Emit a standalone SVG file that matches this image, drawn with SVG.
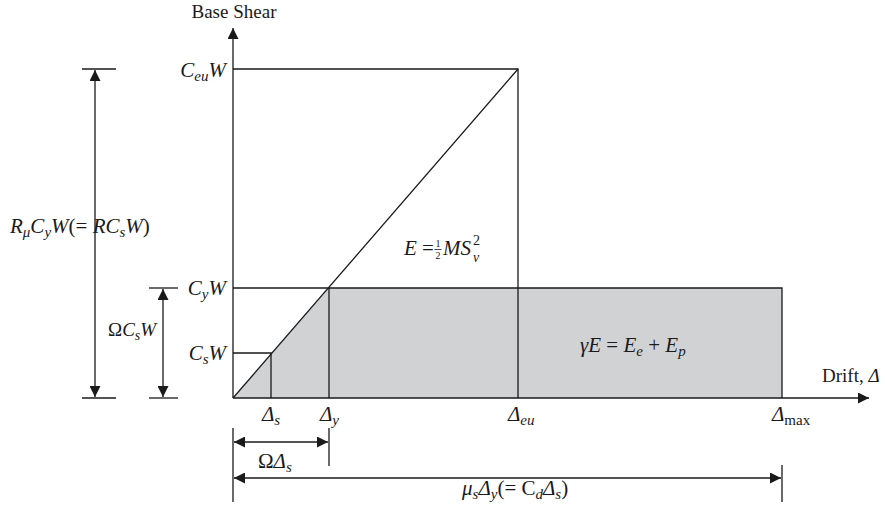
<svg xmlns="http://www.w3.org/2000/svg" width="885" height="515" viewBox="0 0 885 515">
<defs>
<marker id="ah" markerUnits="userSpaceOnUse" markerWidth="11" markerHeight="11" viewBox="0 0 11 11" refX="11" refY="5.5" orient="auto-start-reverse">
<path d="M0,0 L11,5.5 L0,11 z" fill="#1a1a1a"/>
</marker>
<style>
.ln{stroke:#1a1a1a;stroke-width:1.3;fill:none}
.t{font-family:"Liberation Serif",serif;font-size:19px;fill:#1a1a1a}
.m{font-family:"Liberation Serif",serif;font-style:italic;font-size:21px;fill:#1a1a1a}
.up{font-style:normal}
.sb{font-size:15px}
.fr{font-family:"Liberation Serif",serif;font-size:10px;fill:#1a1a1a}
.sp{font-family:"Liberation Serif",serif;font-size:14px;fill:#1a1a1a}
</style>
</defs>
<rect width="885" height="515" fill="#fff"/>
<g id="regions">
<polygon points="233,398 329,288 782,288 782,398" fill="#d1d2d4"/>
<polyline class="ln" points="233,69 518,69 518,398"/>
<line class="ln" x1="233" y1="398" x2="518" y2="69"/>
<polyline class="ln" points="233,288 782,288 782,398"/>
<polyline class="ln" points="233,353 271,353 271,398"/>
<line class="ln" x1="329" y1="288" x2="329" y2="398"/>
</g>
<g id="connectors">
<line class="ln" x1="233" y1="398" x2="233" y2="28" marker-end="url(#ah)"/>
<line class="ln" x1="233" y1="398" x2="869" y2="398" marker-end="url(#ah)"/>
<line class="ln" x1="82" y1="69" x2="116" y2="69"/>
<line class="ln" x1="82" y1="398" x2="116" y2="398"/>
<line class="ln" x1="95" y1="70" x2="95" y2="397" marker-start="url(#ah)" marker-end="url(#ah)"/>
<line class="ln" x1="149" y1="288" x2="178" y2="288"/>
<line class="ln" x1="149" y1="398" x2="178" y2="398"/>
<line class="ln" x1="163" y1="289" x2="163" y2="397" marker-start="url(#ah)" marker-end="url(#ah)"/>
<line class="ln" x1="233" y1="428" x2="233" y2="502"/>
<line class="ln" x1="329" y1="428" x2="329" y2="466"/>
<line class="ln" x1="782" y1="465" x2="782" y2="502"/>
<line class="ln" x1="234" y1="442" x2="328" y2="442" marker-start="url(#ah)" marker-end="url(#ah)"/>
<line class="ln" x1="234" y1="478" x2="781" y2="478" marker-start="url(#ah)" marker-end="url(#ah)"/>
</g>
<g id="axis-labels">
<text class="t" x="234" y="18" text-anchor="middle">Base Shear</text>
<text class="t" x="822" y="382">Drift, <tspan font-style="italic">Δ</tspan></text>
</g>
<g id="y-labels">
<text class="m" x="226" y="77" text-anchor="end">C<tspan class="sb" dy="4">eu</tspan><tspan dy="-4">W</tspan></text>
<text class="m" x="226" y="295" text-anchor="end">C<tspan class="sb" dy="4">y</tspan><tspan dy="-4">W</tspan></text>
<text class="m" x="226" y="360" text-anchor="end">C<tspan class="sb" dy="4">s</tspan><tspan dy="-4">W</tspan></text>
<text class="m" x="10" y="233">R<tspan class="sb" dy="4">μ</tspan><tspan dy="-4">C</tspan><tspan class="sb" dy="4">y</tspan><tspan dy="-4">W</tspan><tspan class="up">(=</tspan> RC<tspan class="sb" dy="4">s</tspan><tspan dy="-4">W</tspan><tspan class="up">)</tspan></text>
<text class="m" x="108" y="336" style="font-size:19px"><tspan class="up">Ω</tspan>C<tspan dy="4" style="font-size:14px">s</tspan><tspan dy="-4">W</tspan></text>
</g>
<g id="x-labels">
<text class="m" x="262" y="421">Δ<tspan class="sb" dy="4">s</tspan></text>
<text class="m" x="320" y="421">Δ<tspan class="sb" dy="4">y</tspan></text>
<text class="m" x="508" y="421">Δ<tspan class="sb" dy="4">eu</tspan></text>
<text class="m" x="772" y="421">Δ<tspan class="sb up" dy="4">max</tspan></text>
<text class="m" x="258" y="468"><tspan class="up">Ω</tspan>Δ<tspan class="sb" dy="4">s</tspan></text>
<text class="m" x="462" y="495">μ<tspan class="sb" dy="4">s</tspan><tspan dy="-4">Δ</tspan><tspan class="sb" dy="4">y</tspan><tspan class="up" dy="-4">(= C</tspan><tspan class="sb" dy="4">d</tspan><tspan dy="-4">Δ</tspan><tspan class="sb" dy="4">s</tspan><tspan class="up" dy="-4">)</tspan></text>
</g>
<g id="energy-labels">
<text class="m" x="404" y="255">E <tspan class="up">=</tspan></text>
<text class="fr" x="438" y="247" text-anchor="middle">1</text>
<line x1="434.5" y1="249.5" x2="441.5" y2="249.5" stroke="#1a1a1a" stroke-width="0.8"/>
<text class="fr" x="438" y="258.5" text-anchor="middle">2</text>
<text class="m" x="443" y="255">MS</text>
<text class="sp" x="473" y="245">2</text>
<text class="m" x="473" y="262" style="font-size:14px">v</text>
<text class="m" x="580" y="352">γE <tspan class="up">=</tspan> E<tspan class="sb" dy="4">e</tspan><tspan class="up" dy="-4"> + </tspan>E<tspan class="sb" dy="4">p</tspan></text>
</g>
</svg>
